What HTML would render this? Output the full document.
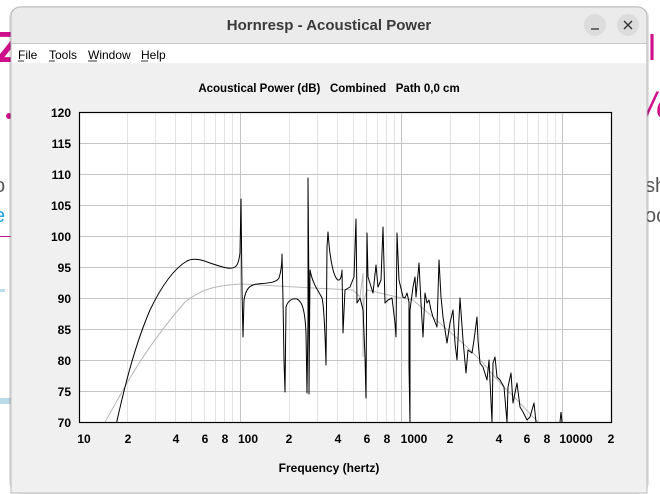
<!DOCTYPE html>
<html><head><meta charset="utf-8"><style>
html,body{margin:0;padding:0;width:660px;height:494px;overflow:hidden;background:#fff;}
svg{display:block;font-family:"Liberation Sans",sans-serif;}
</style></head><body>
<svg width="660" height="494" viewBox="0 0 660 494" xmlns="http://www.w3.org/2000/svg">
<text x="-4" y="62" font-size="44" fill="#d0108a" font-weight="bold">Z</text>
<circle cx="9" cy="116" r="3" fill="#d0108a"/>
<text x="-6" y="192" font-size="20" fill="#555">o</text>
<text x="-6" y="222" font-size="20" fill="#1aa0e0">e</text>
<rect x="0" y="236" width="12" height="1" fill="#c0108a"/>
<rect x="0" y="289" width="5" height="3" fill="#bcdbe8"/>
<rect x="0" y="398" width="12" height="6" fill="#bcdbe8"/>
<text x="648" y="60" font-size="36" fill="#d0108a">l</text>
<text x="646" y="118" font-size="36" fill="#d0108a" font-style="italic">/e</text>
<text x="645" y="192" font-size="20" fill="#555">sh</text>
<text x="645" y="222" font-size="20" fill="#555">oc</text>
<rect x="9" y="6" width="640" height="488" rx="12" fill="#000" opacity="0.12"/>
<path d="M11 493 V18 Q11 7 22 7 H636 Q647 7 647 18 V493 Z" fill="#f0f0f0" stroke="#bbb" stroke-width="1"/>
<path d="M11.5 43 V18 Q11.5 7.5 22 7.5 H636 Q646.5 7.5 646.5 18 V43 Z" fill="#ebebeb"/>
<line x1="11" y1="43.5" x2="647" y2="43.5" stroke="#c8c8c8"/>
<rect x="12" y="44" width="634" height="19" fill="#fff"/>
<text x="329" y="30" font-size="15" font-weight="bold" fill="#3a3a3a" text-anchor="middle">Hornresp - Acoustical Power</text>
<circle cx="595" cy="25" r="11" fill="#dcdcdc"/>
<line x1="591" y1="29" x2="599" y2="29" stroke="#333" stroke-width="1.3"/>
<circle cx="628" cy="25" r="11" fill="#dcdcdc"/>
<path d="M624 21 L632 29 M632 21 L624 29" stroke="#333" stroke-width="1.4"/>
<g font-size="12" fill="#000">
<text x="18" y="59">File</text><text x="49" y="59">Tools</text><text x="88" y="59">Window</text><text x="141" y="59">Help</text>
</g>
<g stroke="#000" stroke-width="0.8"><line x1="18" y1="61" x2="24" y2="61"/><line x1="49" y1="61" x2="55" y2="61"/><line x1="88" y1="61" x2="97" y2="61"/><line x1="141" y1="61" x2="148" y2="61"/></g>
<text x="329" y="92" font-size="11.5" font-weight="bold" text-anchor="middle" xml:space="preserve">Acoustical Power (dB)   Combined   Path 0,0 cm</text>
<rect x="79.5" y="112.5" width="532" height="310" fill="#fff"/>
<g stroke="#e2e2e2" stroke-width="1">
<line x1="127.5" y1="113" x2="127.5" y2="422"/><line x1="155.5" y1="113" x2="155.5" y2="422"/><line x1="175.5" y1="113" x2="175.5" y2="422"/><line x1="191.5" y1="113" x2="191.5" y2="422"/><line x1="204.5" y1="113" x2="204.5" y2="422"/><line x1="215.5" y1="113" x2="215.5" y2="422"/><line x1="224.5" y1="113" x2="224.5" y2="422"/><line x1="232.5" y1="113" x2="232.5" y2="422"/>
<line x1="289.5" y1="113" x2="289.5" y2="422"/><line x1="317.5" y1="113" x2="317.5" y2="422"/><line x1="337.5" y1="113" x2="337.5" y2="422"/><line x1="353.5" y1="113" x2="353.5" y2="422"/><line x1="366.5" y1="113" x2="366.5" y2="422"/><line x1="377.5" y1="113" x2="377.5" y2="422"/><line x1="386.5" y1="113" x2="386.5" y2="422"/><line x1="394.5" y1="113" x2="394.5" y2="422"/>
<line x1="450.5" y1="113" x2="450.5" y2="422"/><line x1="479.5" y1="113" x2="479.5" y2="422"/><line x1="499.5" y1="113" x2="499.5" y2="422"/><line x1="514.5" y1="113" x2="514.5" y2="422"/><line x1="527.5" y1="113" x2="527.5" y2="422"/><line x1="538.5" y1="113" x2="538.5" y2="422"/><line x1="547.5" y1="113" x2="547.5" y2="422"/><line x1="555.5" y1="113" x2="555.5" y2="422"/>
</g>
<g stroke="#c4c4c4" stroke-width="1">
<line x1="240.5" y1="113" x2="240.5" y2="422"/><line x1="401.5" y1="113" x2="401.5" y2="422"/><line x1="562.5" y1="113" x2="562.5" y2="422"/>
<line x1="80" y1="143.5" x2="611" y2="143.5"/><line x1="80" y1="174.5" x2="611" y2="174.5"/><line x1="80" y1="205.5" x2="611" y2="205.5"/><line x1="80" y1="236.5" x2="611" y2="236.5"/><line x1="80" y1="267.5" x2="611" y2="267.5"/><line x1="80" y1="298.5" x2="611" y2="298.5"/><line x1="80" y1="329.5" x2="611" y2="329.5"/><line x1="80" y1="360.5" x2="611" y2="360.5"/><line x1="80" y1="391.5" x2="611" y2="391.5"/>
</g>
<path fill="none" stroke="#b8b8b8" stroke-width="1" d="M105,422 L127,383 C145,352 165,325 185,302 C200,290 215,285 243,284 L313,288 L353,290 L360,297 L363,273 L363,357 L364,300 L367,290 L397,297 L413,300 L433,317 L467,347 L483,363 L500,383 L517,400 L533,417 L538,422"/>
<path fill="none" stroke="#000" stroke-width="1" stroke-linejoin="round" d="M116.7,422 C125,385 135,345 150,310 C162,285 175,268 187,261 C193,258 200,259 210,263 C222,267 230,270 235,267 C238,265 239,260 240,253 L241,199 L242,290 L243,337 L244,300 C246,288 250,285 257,284 C268,283 276,283 279,278 C281,272 282,262 282,254 L283,300 L284,360 L285,392 L286,307 C288,300 293,298 297,299 C302,301 305,310 306,333 L307,393 L308,320 L308,178 L309,300 L309,394 L310,270 C313,285 318,290 322,298 C324,305 325,330 326,365 L327,247 L328,232 C330,262 334,278 338,280 C341,281 342,273 342,270 L343,333 L345,290 L350,287 L354,277 L356,219 L357,303 L360,298 L363,310 L365,357 L366,398 L367,233 L368,277 L373,293 L376,265 L378,287 L381,280 L383,227 L385,303 L388,300 L392,298 L395,323 L396,337 L397,233 L399,280 L403,297 L405,298 L407,293 L409,302 L409,367 L410,422 L410,310 L413,287 L415,277 L416,297 L419,263 L421,303 L423,337 L425,293 L427,303 L429,300 L431,310 L433,317 L437,327 L439,260 L441,297 L443,317 L447,343 L450,323 L453,310 L455,343 L457,360 L460,298 L463,340 L466,373 L468,350 L472,353 L474,340 L477,317 L478,340 L480,363 L483,367 L487,380 L489,360 L492,422 L493,363 L495,357 L497,377 L500,380 L504,387 L507,422 L508,387 L511,373 L513,403 L517,383 L520,407 L523,412 L527,420 L530,417 L534,403 L536,422"/>
<polyline fill="none" stroke="#000" stroke-width="1" points="560,422 561,412 562,422"/>
<rect x="79.5" y="112.5" width="532" height="310" fill="none" stroke="#000" stroke-width="1.2"/>
<g font-size="12" font-weight="bold" text-anchor="end">
<text x="71" y="117">120</text><text x="71" y="148">115</text><text x="71" y="179">110</text><text x="71" y="210">105</text><text x="71" y="241">100</text><text x="71" y="272">95</text><text x="71" y="303">90</text><text x="71" y="334">85</text><text x="71" y="365">80</text><text x="71" y="396">75</text><text x="71" y="427">70</text>
</g>
<g font-size="12" font-weight="bold" text-anchor="middle">
<text x="84" y="443">10</text><text x="128" y="443">2</text><text x="176" y="443">4</text><text x="205" y="443">6</text><text x="225" y="443">8</text><text x="248" y="443">100</text><text x="289" y="443">2</text><text x="338" y="443">4</text><text x="367" y="443">6</text><text x="387" y="443">8</text><text x="414" y="443">1000</text><text x="450" y="443">2</text><text x="499" y="443">4</text><text x="527" y="443">6</text><text x="547" y="443">8</text><text x="576" y="443">10000</text><text x="611" y="443">2</text>
</g>
<text x="329" y="472" font-size="12" font-weight="bold" text-anchor="middle">Frequency (hertz)</text>
</svg>
</body></html>
